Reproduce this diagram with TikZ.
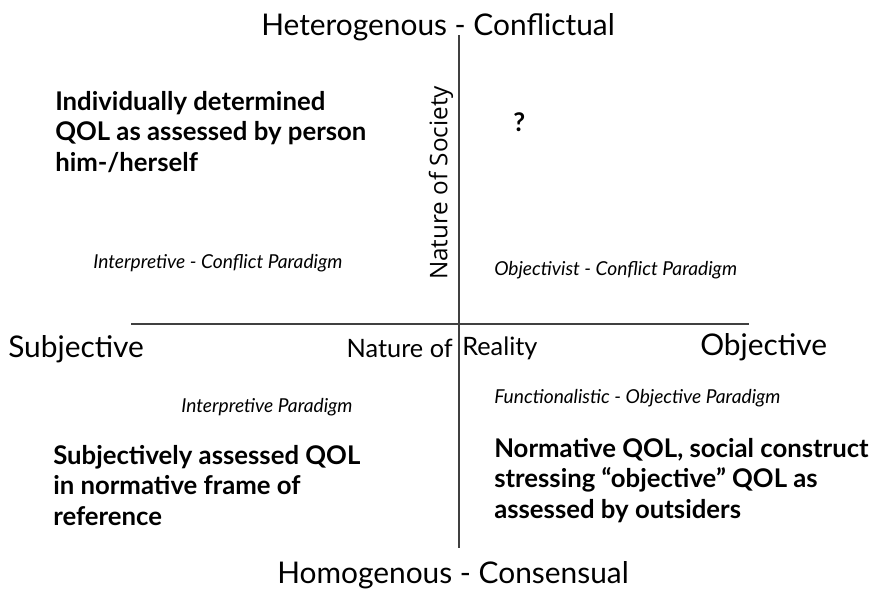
\documentclass[tikz,border=0pt]{standalone}
\usepackage{fontspec}
\setmainfont{Lato}
\newfontfamily\axisfont{Open Sans}
\usetikzlibrary{positioning}
\tikzset{
    axisline/.style={draw=black!75,line width=0.8pt},
    poletext/.style={font=\fontsize{22.4}{26}\selectfont,inner sep=0pt},
    axistext/.style={font=\fontsize{19}{22}\selectfont,inner sep=0pt},
    paradigm/.style={font=\fontsize{14.4}{17}\selectfont\itshape,inner sep=0pt,anchor=west},
    qolbox/.style={font=\fontsize{19.3}{22.8}\selectfont\bfseries,inner sep=0pt,
        anchor=north west,align=left}
}
\begin{document}
\begin{tikzpicture}[x=0.75pt,y=-0.75pt]
    \useasboundingbox (0,0) rectangle (872,590);
    % axes
    \coordinate (top) at (459,35);
    \coordinate (bottom) at (459,548);
    \coordinate (left) at (131,324);
    \coordinate (right) at (749,324);
    \draw[axisline] (top) -- (bottom);
    \draw[axisline] (left) -- (right);
    % poles
    \node[poletext] (hetero) at (438,27) {Heterogenous - Conflictual};
    \node[poletext] (homo) at (453,575) {Homogenous - Consensual};
    \node[poletext,anchor=west] (subj) at (8,349) {Subjective};
    \node[poletext,anchor=west] (obj) at (700,347) {Objective};
    % axis names
    \node[axistext,anchor=east] (natureof) at (453,348) {Nature of};
    \node[axistext,anchor=west] (reality) at (462,348) {Reality};
    \node[axistext,font=\axisfont\fontsize{18.2}{20}\selectfont,rotate=90] (society) at (441,183) {Nature of Society};
    % paradigms
    \node[paradigm] (intconf) at (93,263) {Interpretive - Conflict Paradigm};
    \node[paradigm] (objconf) at (494,270) {Objectivist - Conflict Paradigm};
    \node[paradigm] (interp) at (181,407) {Interpretive Paradigm};
    \node[paradigm] (funcobj) at (494,398) {Functionalistic - Objective Paradigm};
    % QOL concepts
    \node[qolbox] (indiv) at (55,91) {Individually determined\\QOL as assessed by person\\him-/herself};
    \node[qolbox,anchor=west] (unknown) at (513,122) {?};
    \node[qolbox] (subjqol) at (53,445) {Subjectively assessed QOL\\in normative frame of\\reference};
    \node[qolbox] (normqol) at (494,438) {Normative QOL, social construct\\stressing ``objective'' QOL as\\assessed by outsiders};
\end{tikzpicture}
\end{document}
